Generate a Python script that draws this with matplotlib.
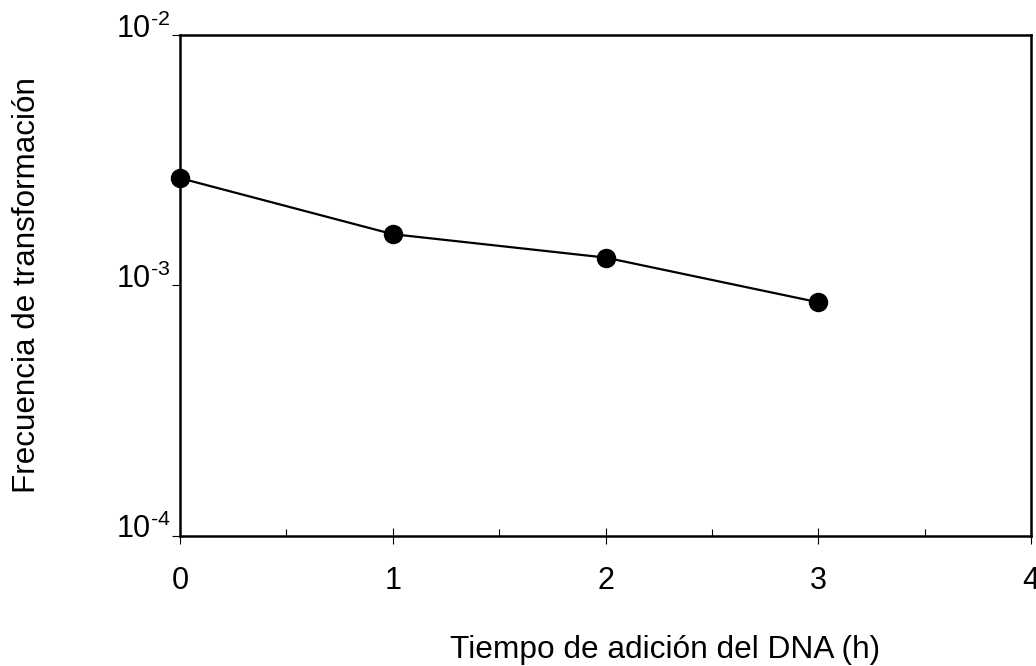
import matplotlib
matplotlib.use("Agg")
import matplotlib.pyplot as plt
import matplotlib.transforms as mtransforms
from matplotlib.ticker import FixedLocator, NullLocator, FixedFormatter

plt.rcParams['font.family'] = ['Liberation Sans', 'DejaVu Sans']
plt.rcParams['mathtext.fontset'] = 'custom'
plt.rcParams['mathtext.rm'] = 'Liberation Sans'
plt.rcParams['mathtext.default'] = 'regular'

# Data
tiempo = [0, 1, 2, 3]
frecuencia = [2.68e-3, 1.60e-3, 1.29e-3, 8.55e-4]
xticks = [0, 1, 2, 3, 4]
xminor = [0.5, 1.5, 2.5, 3.5]
yticks = [1e-4, 1e-3, 1e-2]
ytick_labels = [r'$10^{\text{-}4}$', r'$10^{\text{-}3}$', r'$10^{\text{-}2}$']

fig = plt.figure(figsize=(10.36, 6.66), dpi=100)
ax = fig.add_axes([180/1036, (666-535.5)/666, (1031-180)/1036, 500.5/666])

ax.plot(tiempo, frecuencia, color='black', lw=1.6, marker='o', ms=13,
        markerfacecolor='black', markeredgecolor='black', clip_on=False, zorder=3)

ax.set_yscale('log')
ax.set_xlim(0, 4)
ax.set_ylim(1e-4, 1e-2)

ax.xaxis.set_major_locator(FixedLocator(xticks))
ax.xaxis.set_minor_locator(FixedLocator(xminor))
ax.set_xticklabels([str(v) for v in xticks])
ax.yaxis.set_major_locator(FixedLocator(yticks))
ax.yaxis.set_minor_locator(NullLocator())
ax.yaxis.set_major_formatter(FixedFormatter(ytick_labels))

for s in ax.spines.values():
    s.set_linewidth(1.8)

ax.tick_params(axis='x', which='major', direction='inout', length=12, width=0.8,
               labelsize=22, pad=16)
ax.tick_params(axis='x', which='minor', direction='in', length=5, width=0.8)
ax.tick_params(axis='y', which='major', direction='out', length=6, width=0.8,
               labelsize=22, pad=1)
offset = mtransforms.ScaledTranslation(0, -3/100, fig.dpi_scale_trans)
for lab in ax.get_yticklabels():
    lab.set_va('baseline')
    lab.set_transform(lab.get_transform() + offset)

ax.set_xlabel('Tiempo de adición del DNA (h)', fontsize=22.8)
ax.set_ylabel('Frecuencia de transformación', fontsize=22.6)
ax.xaxis.set_label_coords((665-180)/(1031-180), -(650-535.5)/500.5)
ax.yaxis.set_label_coords(-(180-27)/(1031-180), (535.5-285)/500.5)
ax.xaxis.label.set_va('center')
ax.yaxis.label.set_va('center')

fig.savefig('out.png', dpi=100)
